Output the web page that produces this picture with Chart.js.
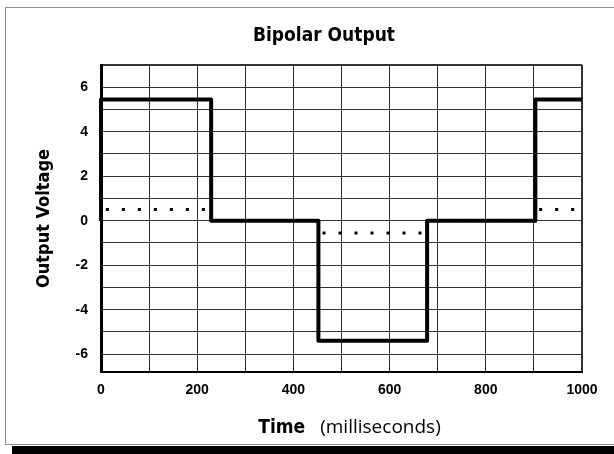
<!DOCTYPE html>
<html>
<head>
<meta charset="utf-8">
<title>Bipolar Output</title>
<script src="https://cdn.jsdelivr.net/npm/chart.js@4.4.1/dist/chart.umd.min.js"></script>
<style>
    html, body { margin: 0; padding: 0; background: #fff; overflow: hidden; }
    #frame { position: absolute; left: 5px; top: 7px; width: 700px; height: 436px; border: 1px solid #8c8c8c; }
    #shadow { position: absolute; left: 12px; top: 446px; width: 700px; height: 8px; background: #000; }
    #chart { position: absolute; left: 0; top: 0; }
</style>
</head>
<body>
<div id="frame"></div>
<div id="shadow"></div>
<canvas id="chart" width="614" height="454"></canvas>
<script>
// Dati (tempo in ms, tensione in V)
const timeMs = [0, 0, 229, 452, 678, 903, 1000];
const outputV = [0, 5.45, 0, -5.4, 0, 5.45, 5.45];
const averageV = [0, 0.5, 0, -0.55, 0, 0.5, 0.5];

const xTickLabels = [0, 200, 400, 600, 800, 1000];
const yTickLabels = [-6, -4, -2, 0, 2, 4, 6];

const chartTitle = 'Bipolar Output';
const yTitle = 'Output Voltage';
const xTitleMain = 'Time';
const xTitleUnit = '(milliseconds)';

const narrowBold = "'Liberation Sans Narrow', 'DejaVu Sans Condensed', sans-serif";

function toPoints(xs, ys) {
    return xs.map((x, i) => ({ x: x, y: ys[i] }));
}

// Titolo asse x con due stili diversi
const xTitlePlugin = {
    id: 'xTitle',
    afterDraw(chart) {
        const ctx = chart.ctx;
        const area = chart.chartArea;
        const mainFont = "bold 19px " + narrowBold;
        const unitFont = "19px 'Open Sans', sans-serif";
        ctx.save();
        ctx.fillStyle = '#000';
        ctx.textBaseline = 'alphabetic';
        ctx.font = mainFont;
        const w1 = ctx.measureText(xTitleMain).width;
        ctx.font = unitFont;
        const w2 = ctx.measureText(xTitleUnit).width;
        const gap = 15;
        const center = (area.left + area.right) / 2 + 8;
        const start = center - (w1 + gap + w2) / 2;
        ctx.font = mainFont;
        ctx.fillText(xTitleMain, start, 433);
        ctx.font = unitFont;
        ctx.fillText(xTitleUnit, start + w1 + gap, 433);
        ctx.restore();
    }
};

new Chart(document.getElementById('chart'), {
    type: 'line',
    data: {
        datasets: [{
            label: 'Output',
            data: toPoints(timeMs, outputV),
            stepped: 'before',
            borderColor: '#000',
            borderWidth: 4,
            borderJoinStyle: 'round',
            pointRadius: 0,
            fill: false,
            clip: 6,
            order: 2
        }, {
            label: 'Average',
            data: toPoints(timeMs, averageV),
            stepped: 'before',
            borderColor: '#000',
            borderWidth: 3,
            borderDash: [3, 13],
            borderCapStyle: 'butt',
            pointRadius: 0,
            fill: false,
            clip: 6,
            order: 1
        }]
    },
    options: {
        responsive: false,
        animation: false,
        layout: { padding: { left: 34, right: 0, top: 0, bottom: 0 } },
        plugins: {
            legend: { display: false },
            tooltip: { enabled: false },
            title: {
                display: true,
                text: chartTitle,
                color: '#000',
                font: { family: narrowBold, size: 19, weight: 'bold', lineHeight: 1.2 },
                padding: { top: 25, bottom: 17.2 }
            }
        },
        scales: {
            x: {
                type: 'linear',
                min: 0,
                max: 1000,
                afterFit(scale) {
                    scale.height = 82;
                    scale.paddingRight = 32;
                    scale.paddingLeft = 0;
                },
                ticks: {
                    stepSize: 100,
                    autoSkip: false,
                    maxRotation: 0,
                    padding: 10,
                    color: '#000',
                    font: { family: "'Liberation Sans', sans-serif", size: 14, weight: 'bold' },
                    callback: (v) => xTickLabels.includes(v) ? String(v) : ''
                },
                grid: {
                    drawTicks: false,
                    color: '#333',
                    lineWidth: (c) => (c.tick && c.tick.value === 1000) ? 2 : 1
                },
                border: { display: true, color: '#000', width: 2 }
            },
            y: {
                type: 'linear',
                min: -6.8,
                max: 7,
                afterFit(scale) {
                    scale.width = 67;
                    scale.paddingTop = 0;
                    scale.paddingBottom = 0;
                },
                title: {
                    display: true,
                    text: yTitle,
                    color: '#000',
                    font: { family: narrowBold, size: 18, weight: 'bold', lineHeight: 1.2 },
                    padding: { top: 0, bottom: 0 }
                },
                ticks: {
                    stepSize: 1,
                    autoSkip: false,
                    padding: 13,
                    color: '#000',
                    font: { family: "'Liberation Sans', sans-serif", size: 14, weight: 'bold' },
                    callback: (v) => yTickLabels.includes(v) ? String(v) : ''
                },
                grid: {
                    drawTicks: false,
                    color: '#333',
                    lineWidth: (c) => {
                        if (!c.tick) return 1;
                        if (c.tick.value === 7) return 2;
                        if (c.tick.value === -6.8) return 0;
                        return 1;
                    }
                },
                border: { display: true, color: '#000', width: 3 }
            }
        }
    },
    plugins: [xTitlePlugin]
});
</script>
</body>
</html>
